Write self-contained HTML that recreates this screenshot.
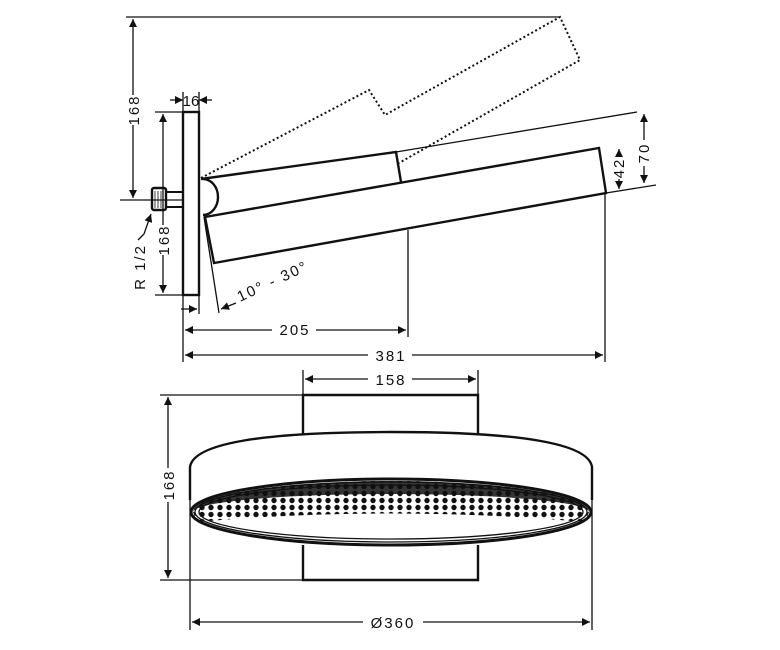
<!DOCTYPE html>
<html><head><style>html,body{margin:0;padding:0;background:#fff}svg{display:block}text{font-family:"Liberation Sans",sans-serif;font-size:15px;fill:#111;letter-spacing:2px}</style></head>
<body>
<svg width="780" height="650" viewBox="0 0 780 650" xmlns="http://www.w3.org/2000/svg">
<defs>
<marker id="a" viewBox="0 0 10 10" refX="10" refY="5" markerWidth="10" markerHeight="8" markerUnits="userSpaceOnUse" orient="auto-start-reverse"><path d="M0,0L10,5L0,10z" fill="#111"/></marker>
<pattern id="dots" width="9" height="7" patternUnits="userSpaceOnUse"><circle cx="4" cy="3.5" r="2.7" fill="#111"/></pattern>
<clipPath id="cres"><path d="M193,512 A198,31 0 0 1 589,512 L585,522 Q391,505 197,522 Z"/></clipPath>
</defs>
<g stroke="#111" fill="none" stroke-width="1.3">
<line x1="126" y1="17" x2="560" y2="17"/>
<line x1="133" y1="19" x2="133" y2="198" marker-start="url(#a)" marker-end="url(#a)"/>
<line x1="120" y1="200" x2="183" y2="200"/>
<rect x="183" y="112" width="16" height="183" stroke-width="2.4"/>
<line x1="155" y1="112" x2="183" y2="112"/>
<line x1="155" y1="295" x2="183" y2="295"/>
<line x1="163" y1="114" x2="163" y2="293" marker-start="url(#a)" marker-end="url(#a)"/>
<line x1="199" y1="92" x2="199" y2="112"/>
<line x1="183" y1="92" x2="183" y2="112"/>
<line x1="170" y1="100" x2="183" y2="100" marker-end="url(#a)"/>
<line x1="212" y1="100" x2="199" y2="100" marker-end="url(#a)"/>
<rect x="152" y="188" width="14" height="22" rx="2" stroke-width="2.4"/>
<line x1="155" y1="191" x2="155" y2="208" stroke-width="0.8"/><line x1="158" y1="191" x2="158" y2="208" stroke-width="0.8"/><line x1="161" y1="191" x2="161" y2="208" stroke-width="0.8"/>
<rect x="166" y="192" width="17" height="15" stroke-width="2"/>
<path d="M144,234 L151,214" marker-end="url(#a)"/>
<path d="M144,234 L138,240"/>
<g stroke-width="2.4">
<path d="M201,179 L396,152 L401,182"/>
<path d="M205,217 L599,148 L606,193 L214,263 Z"/>
<path d="M203,179 A15,18 0 0 1 203,215"/>
</g>
<line x1="396" y1="152" x2="637" y2="112"/>
<line x1="606" y1="193" x2="656" y2="185"/>
<line x1="644" y1="114" x2="644" y2="183" marker-start="url(#a)" marker-end="url(#a)"/>
<line x1="619" y1="149" x2="619" y2="189" marker-start="url(#a)" marker-end="url(#a)"/>
<g stroke-dasharray="2,2.5" stroke-width="2">
<path d="M201,178 L369,90 L385,115 L560,17 L580,60 L399,163"/>
</g>
<line x1="204" y1="217" x2="219" y2="313"/>
<line x1="236" y1="303" x2="221" y2="309" marker-end="url(#a)"/>
<line x1="183" y1="295" x2="183" y2="362"/>
<line x1="199" y1="295" x2="199" y2="314"/>
<line x1="181" y1="309" x2="197" y2="309" marker-end="url(#a)"/>
<line x1="408" y1="230" x2="408" y2="337"/>
<line x1="605" y1="193" x2="605" y2="362"/>
<line x1="185" y1="330" x2="406" y2="330" marker-start="url(#a)" marker-end="url(#a)"/>
<line x1="185" y1="355" x2="603" y2="355" marker-start="url(#a)" marker-end="url(#a)"/>
<line x1="303" y1="370" x2="303" y2="395"/>
<line x1="478" y1="370" x2="478" y2="395"/>
<line x1="305" y1="379" x2="476" y2="379" marker-start="url(#a)" marker-end="url(#a)"/>
<line x1="160" y1="395" x2="303" y2="395"/>
<line x1="160" y1="580" x2="303" y2="580"/>
<line x1="168" y1="397" x2="168" y2="578" marker-start="url(#a)" marker-end="url(#a)"/>
<g stroke-width="2.4">
<path d="M303,435 L303,395 L478,395 L478,435"/>
<path d="M303,545 L303,580 L478,580 L478,545"/>
<path d="M190,500 L190,467 Q195,432 391,432 Q587,432 592,467 L592,500"/>
<ellipse cx="391" cy="512" rx="200" ry="33" stroke-width="3"/>
</g>
<ellipse cx="391" cy="512" rx="196" ry="30"/>
<ellipse cx="391" cy="512" rx="192" ry="27"/>
<line x1="190" y1="500" x2="190" y2="630"/>
<line x1="592" y1="500" x2="592" y2="630"/>
<line x1="192" y1="622" x2="590" y2="622" marker-start="url(#a)" marker-end="url(#a)"/>
</g>
<rect x="190" y="478" width="402" height="60" fill="url(#dots)" clip-path="url(#cres)"/>
<path d="M193,512 A198,31 0 0 1 589,512 A198,18 0 0 0 193,512Z" fill="#111" opacity="0.85"/>
<rect x="118" y="95" width="30" height="30" fill="#fff"/>
<text transform="translate(139,110) rotate(-90)" text-anchor="middle">168</text>
<rect x="155" y="225" width="16" height="30" fill="#fff"/>
<text transform="translate(169,240) rotate(-90)" text-anchor="middle">168</text>
<text transform="translate(145,267) rotate(-90)" text-anchor="middle">R 1/2</text>
<text x="191" y="106" text-anchor="middle" style="letter-spacing:0">16</text>
<rect x="635" y="140" width="16" height="26" fill="#fff"/>
<text transform="translate(649,153) rotate(-90)" text-anchor="middle">70</text>
<rect x="611" y="157" width="16" height="22" fill="#fff"/>
<text transform="translate(624,168) rotate(-90)" text-anchor="middle">42</text>
<text transform="translate(240,302) rotate(-25)">10° - 30°</text>
<rect x="272" y="320" width="44" height="20" fill="#fff"/>
<text x="295" y="335" text-anchor="middle">205</text>
<rect x="368" y="345" width="44" height="20" fill="#fff"/>
<text x="391" y="361" text-anchor="middle">381</text>
<rect x="368" y="370" width="44" height="20" fill="#fff"/>
<text x="391" y="385" text-anchor="middle">158</text>
<rect x="160" y="468" width="16" height="34" fill="#fff"/>
<text transform="translate(174,485) rotate(-90)" text-anchor="middle">168</text>
<rect x="363" y="612" width="60" height="20" fill="#fff"/>
<text x="393" y="628" text-anchor="middle">Ø360</text>
</svg>
</body></html>
